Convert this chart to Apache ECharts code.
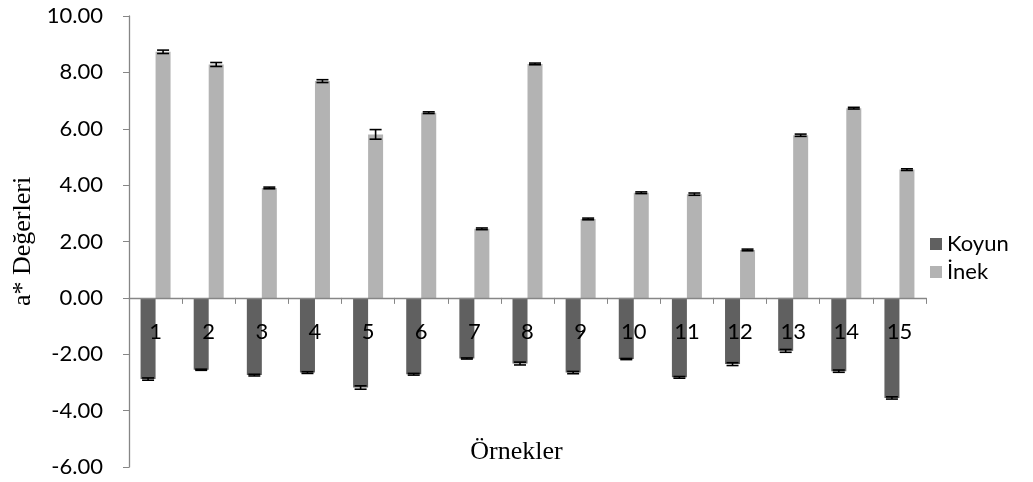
<!DOCTYPE html>
<html><head><meta charset="utf-8">
<script src="https://cdn.jsdelivr.net/npm/echarts@6/dist/echarts.min.js"></script>
<style>html,body{margin:0;padding:0;background:#fff}#c{width:1033px;height:482px}</style>
</head><body><div id="c"></div>
<script>
const categories = ['1','2','3','4','5','6','7','8','9','10','11','12','13','14','15'];
const koyun = [-2.88,-2.55,-2.74,-2.65,-3.18,-2.71,-2.15,-2.33,-2.65,-2.17,-2.82,-2.35,-1.88,-2.60,-3.55];
const koyunErr = [0.04,0.02,0.03,0.03,0.06,0.03,0.02,0.05,0.04,0.02,0.03,0.05,0.05,0.04,0.04];
const inek = [8.73,8.28,3.90,7.69,5.80,6.57,2.45,8.30,2.80,3.73,3.68,1.70,5.77,6.73,4.55];
const inekErr = [0.06,0.07,0.03,0.05,0.17,0.03,0.03,0.03,0.03,0.03,0.04,0.03,0.04,0.03,0.03];
const yTicks = {min:-6, max:10, interval:2};

const BW = 15;
const GRID_H = 482 - 16 - 15;
const ZERO_OFFSET = -GRID_H * (0 - yTicks.min) / (yTicks.max - yTicks.min);

function errSeries(vals, errs, side){
  return {
    type:'custom', silent:true, z:10,
    data: vals.map((v,i)=>[i, v, errs[i]]),
    renderItem: function(params, api){
      const i = api.value(0), v = api.value(1), e = api.value(2);
      const c = api.coord([i, v]);
      const x = c[0] + side*BW/2;
      const top = api.coord([i, v+e])[1];
      const bot = api.coord([i, v-e])[1];
      const cap = 6;
      const st = {stroke:'#000', lineWidth:1.6};
      return {type:'group', children:[
        {type:'line', shape:{x1:x,y1:top,x2:x,y2:bot}, style:st},
        {type:'line', shape:{x1:x-cap,y1:top,x2:x+cap,y2:top}, style:st},
        {type:'line', shape:{x1:x-cap,y1:bot,x2:x+cap,y2:bot}, style:st}
      ]};
    }
  };
}

const chart = echarts.init(document.getElementById('c'), null, {renderer:'canvas'});
chart.setOption({
  animation:false,
  textStyle:{fontFamily:'Lato'},
  title:{text:'Örnekler', left:'center', top:439, padding:0,
         textStyle:{fontFamily:'Liberation Serif', fontSize:26, fontWeight:'normal', color:'#000'}},
  grid:{left:129, right:107, top:16, bottom:15, containLabel:false},
  legend:{
    orient:'vertical', left:930, top:233, itemWidth:12, itemHeight:12, itemGap:6,
    icon:'rect', padding:0,
    textStyle:{fontFamily:'Lato', fontSize:22, color:'#000'},
    data:['Koyun','İnek']
  },
  xAxis:{
    type:'category', data:categories, position:'bottom', offset:ZERO_OFFSET, z:20,
    axisLine:{onZero:false, lineStyle:{color:'#868686', width:1.3}},
    axisTick:{show:true, length:6, lineStyle:{color:'#868686'}},
    axisLabel:{show:true, fontFamily:'Lato', fontSize:22, color:'#000', margin:23, interval:0},
    splitLine:{show:false}
  },
  yAxis:{
    type:'value', min:yTicks.min, max:yTicks.max, interval:yTicks.interval,
    name:'a* Değerleri', nameLocation:'middle', nameRotate:90, nameGap:84,
    nameTextStyle:{fontFamily:'Liberation Serif', fontSize:26, color:'#000'},
    axisLine:{show:true, lineStyle:{color:'#868686', width:1.3}},
    axisTick:{show:true, length:6, lineStyle:{color:'#868686'}},
    axisLabel:{fontFamily:'Lato', fontSize:22, color:'#000', margin:26, formatter:v=>v.toFixed(2)},
    splitLine:{show:false}
  },
  series:[
    {name:'Koyun', type:'bar', data:koyun, barWidth:BW, barGap:'0%', itemStyle:{color:'#606060'}},
    {name:'İnek', type:'bar', data:inek, barWidth:BW, barGap:'0%', itemStyle:{color:'#b3b3b3'}},
    errSeries(koyun, koyunErr, -1),
    errSeries(inek, inekErr, 1)
  ]
});
</script></body></html>
